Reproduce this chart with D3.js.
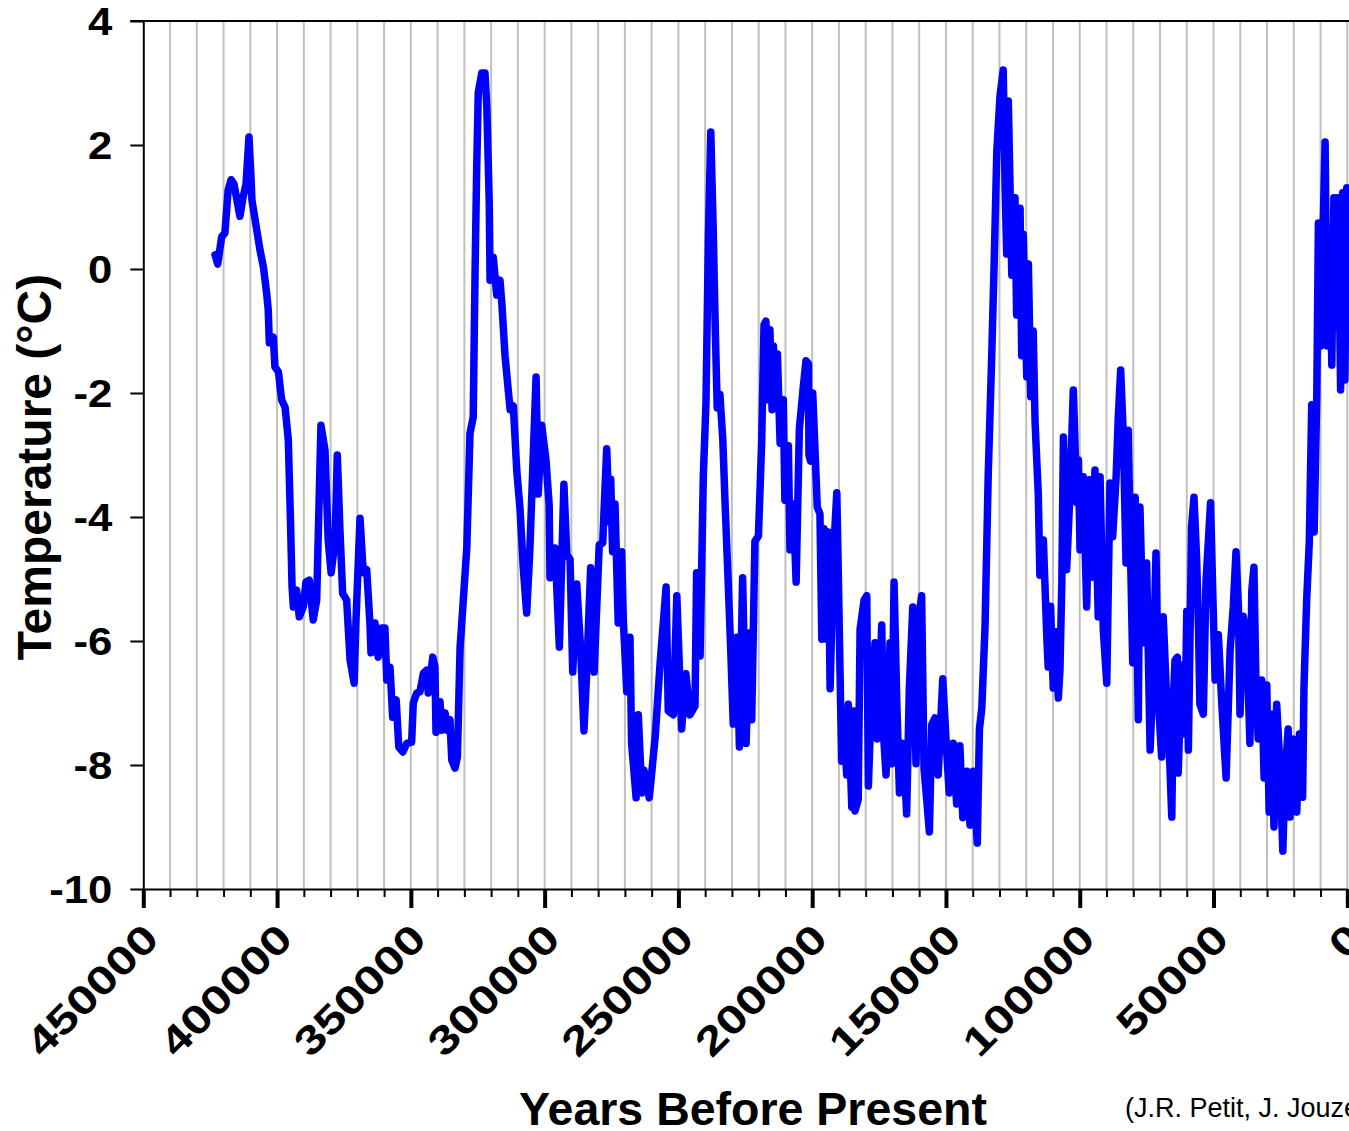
<!DOCTYPE html>
<html>
<head>
<meta charset="utf-8">
<script src="https://cdn.jsdelivr.net/npm/d3@7"></script>
<style>
  html, body { margin: 0; padding: 0; background: #fff; }
  svg { display: block; }
  text { font-family: "Liberation Sans", Arial, Helvetica, sans-serif; }
</style>
</head>
<body>
<svg id="chart" width="1349" height="1131"></svg>
<script>
// Vostok ice core: temperature anomaly vs. years before present
const years = [423200,422200,420700,419500,418300,417200,416100,415000,413900,412700,
411600,410500,409700,409400,408200,406400,405100,403900,403300,402900,
401400,400800,399500,398300,397000,395800,395000,394400,393900,392700,
391700,390200,389200,388000,386500,385200,383600,382100,380900,379800,
378300,377500,376500,375500,374000,372700,371200,370500,369000,367800,
366500,365300,364900,363400,362200,360900,359700,359000,357800,356800,
355500,354500,353000,351500,349700,349100,347800,346600,345300,344100,
343500,341800,341000,340600,339100,338500,337200,336400,335400,334700,
333500,332600,331600,331000,329100,327900,326700,326000,325400,324800,
323500,322300,321600,320700,320400,319200,317900,316700,316000,314800,
312900,311700,310400,309200,308000,306700,305500,303200,302400,301100,
299500,298300,298000,296100,294500,292800,291700,290500,289500,288000,
286500,285300,284300,282800,281500,279600,278300,276800,275800,275300,
274600,273700,272500,271200,270600,269300,268100,267500,265800,265000,
263700,262900,260900,258700,256900,254600,253800,251900,250600,248800,
247200,245700,243800,243200,241900,240700,239700,238800,237900,237000,
236300,235500,234500,233400,232600,231400,230500,229500,228200,227200,
226000,224700,223500,222600,221400,220100,218900,218000,217300,216400,
215800,215000,214500,213500,213000,212000,210800,210200,208900,208300,
207100,206000,204800,203300,202300,201400,201200,200600,199800,198900,
198100,197100,196400,195600,194600,194000,193300,192100,190800,190200,
189600,189000,188400,187100,186500,185200,184400,184000,182800,182100,
180600,179600,179000,177800,176500,175700,174000,173400,172400,170900,
170300,169400,168400,167400,166500,165300,164700,163700,162400,161200,
160300,159100,158200,157200,156200,155300,154100,152900,151200,150000,
148800,147300,146000,144800,143700,142200,141000,139800,138300,137500,
136600,135400,134200,132900,132000,131000,129800,128600,127900,127300,
126700,125400,124200,123600,122300,121700,121100,119800,119200,118300,
117400,116700,115500,114900,113600,112300,111800,110900,109900,108900,
108000,107400,106700,106100,104900,103600,102400,101100,100500,99900,
98700,97400,96400,95500,94300,93100,92400,91200,89900,88700,
87700,86400,85600,84700,83700,82700,81900,81000,80200,79300,
78100,77500,76200,75000,73700,72500,71500,70600,69400,68800,
67500,66300,65600,65000,64400,63500,63200,61900,60700,60000,
59400,58200,57300,56300,55600,55100,53800,52800,51100,50300,
49400,48200,46900,45300,43800,42600,41600,40700,40100,38900,
37600,36400,35700,34900,34100,33300,32000,31100,30100,29200,
28300,27400,26400,25200,24100,23300,22100,21400,20400,18900,
17900,16700,16200,15200,14200,13300,12400,11400,10800,9900,
9200,8300,7500,6500,5800,5000,4000,3400,2500,1700,
900,200];

const temps = [0.23,0.08,0.52,0.58,1.27,1.44,1.37,1.11,0.85,1.16,
1.37,2.13,1.44,1.11,0.79,0.31,0.03,-0.39,-0.66,-1.19,
-1.10,-1.58,-1.66,-2.11,-2.23,-2.76,-4.05,-5.13,-5.45,-5.18,
-5.61,-5.45,-5.05,-5.02,-5.66,-5.34,-2.52,-2.92,-4.37,-4.90,
-4.37,-3.00,-4.21,-5.23,-5.34,-6.31,-6.68,-5.66,-4.02,-4.90,
-4.85,-5.71,-6.19,-5.71,-6.26,-5.79,-5.79,-6.63,-6.42,-7.23,
-6.95,-7.71,-7.79,-7.65,-7.63,-7.00,-6.84,-6.82,-6.52,-6.47,
-6.84,-6.26,-6.42,-7.47,-6.98,-7.44,-7.16,-7.44,-7.27,-7.92,
-8.05,-7.87,-6.10,-5.73,-4.50,-2.65,-2.39,-0.05,1.61,2.85,
3.16,3.16,2.61,1.06,-0.18,0.19,-0.42,-0.18,-0.55,-1.40,
-2.27,-2.21,-3.26,-3.87,-4.81,-5.55,-4.50,-1.74,-3.63,-2.52,
-3.08,-3.81,-4.98,-4.50,-6.10,-3.47,-4.61,-4.68,-6.50,-5.08,
-6.16,-7.45,-6.53,-4.82,-6.50,-4.45,-4.42,-2.90,-4.08,-3.39,
-4.56,-3.79,-5.71,-4.56,-5.65,-6.82,-5.94,-7.65,-8.53,-7.19,
-8.45,-8.08,-8.53,-7.56,-6.39,-5.13,-7.13,-7.19,-5.27,-7.42,
-6.53,-7.19,-7.05,-4.90,-6.24,-3.35,-2.16,0.50,2.21,0.65,
-0.82,-2.24,-2.02,-2.76,-3.73,-5.05,-6.08,-7.34,-5.94,-7.71,
-4.98,-7.65,-5.87,-7.27,-4.39,-4.31,-2.82,-0.90,-0.84,-2.11,
-0.98,-2.27,-1.24,-2.05,-1.37,-2.81,-2.11,-3.73,-2.85,-4.53,
-3.79,-5.05,-2.58,-1.89,-1.48,-1.53,-3.00,-3.10,-2.00,-2.98,
-3.84,-3.95,-5.97,-4.19,-5.97,-4.24,-6.77,-4.65,-3.61,-5.00,
-6.48,-7.94,-7.18,-8.16,-7.02,-8.68,-7.13,-8.74,-8.56,-5.81,
-5.34,-5.27,-8.34,-6.84,-6.03,-7.58,-5.74,-7.47,-8.16,-6.03,
-7.98,-5.05,-6.95,-8.45,-7.65,-8.23,-8.79,-6.77,-5.45,-7.98,
-5.68,-5.27,-8.05,-8.56,-9.08,-7.35,-7.24,-8.16,-6.61,-7.58,
-8.45,-7.65,-8.63,-7.69,-8.85,-8.10,-8.97,-8.10,-9.26,-7.42,
-7.08,-5.77,-3.31,-1.40,0.08,1.89,2.79,3.21,1.31,0.24,
2.71,-0.10,1.15,-0.74,0.98,-1.40,0.56,-1.74,0.08,-2.06,
-1.00,-2.47,-3.63,-4.94,-4.37,-5.94,-6.42,-5.44,-6.76,-5.85,
-6.92,-6.47,-5.06,-2.71,-4.85,-3.56,-1.95,-3.77,-3.08,-4.53,
-3.35,-5.45,-3.40,-4.97,-3.24,-5.61,-3.35,-5.82,-6.68,-3.45,
-4.32,-3.35,-2.39,-1.63,-2.71,-4.74,-2.60,-4.65,-6.35,-3.68,
-7.27,-3.84,-6.03,-4.74,-7.76,-6.47,-4.58,-6.95,-7.87,-5.61,
-6.95,-8.03,-8.84,-6.95,-6.31,-6.26,-8.13,-6.39,-7.50,-5.52,
-7.76,-4.16,-3.68,-4.69,-5.82,-7.02,-7.18,-5.03,-3.77,-5.19,
-6.63,-5.90,-7.02,-8.21,-6.15,-5.44,-4.56,-5.44,-7.18,-5.60,
-5.90,-7.65,-5.19,-4.81,-6.77,-7.58,-6.63,-8.21,-6.71,-8.76,
-7.18,-9.00,-7.02,-7.97,-9.39,-8.21,-7.42,-8.84,-7.58,-8.76,
-7.50,-8.52,-6.77,-5.35,-4.40,-2.19,-4.24,-2.03,0.74,-1.24,
0.35,2.05,-1.24,0.50,-1.55,1.15,-0.92,1.15,-1.95,1.23,
-1.79,1.31];

const yTicks = [-10, -8, -6, -4, -2, 0, 2, 4];
const xMajorTicks = [450000, 400000, 350000, 300000, 250000, 200000, 150000, 100000, 50000, 0];
const xMinorStep = 10000;

const xTitle = "Years Before Present";
const yTitle = "Temperature (\u00B0C)";
const sourceNote = "(J.R. Petit, J. Jouzel, et al., Nature, 1999)";

(function draw() {
  const svg = d3.select("#chart");
  const plotLeft = 143.3, plotRight = 1347.3, plotTop = 21, plotBottom = 889;

  const x = d3.scaleLinear().domain([450000, 0]).range([plotLeft, plotRight]);
  const y = d3.scaleLinear().domain([-10, 4]).range([plotBottom, plotTop]);

  svg.append("rect").attr("width", 1349).attr("height", 1131).attr("fill", "#fff");

  // vertical grid every 10 000 years
  const gridVals = d3.range(0, 450000, xMinorStep);
  svg.append("g").selectAll("line").data(gridVals).join("line")
    .attr("x1", d => x(d)).attr("x2", d => x(d))
    .attr("y1", plotTop).attr("y2", plotBottom)
    .attr("stroke", "#c0c0c0").attr("stroke-width", 2);

  // top frame line
  svg.append("line").attr("x1", plotLeft - 13).attr("x2", 1349)
    .attr("y1", plotTop).attr("y2", plotTop)
    .attr("stroke", "#000").attr("stroke-width", 2);

  // temperature record
  const pts = d3.range(Math.min(years.length, temps.length)).map(i => [years[i], temps[i]]);
  svg.append("path").datum(pts)
    .attr("fill", "none").attr("stroke", "#0000ff")
    .attr("stroke-width", 7.5).attr("stroke-linejoin", "round").attr("stroke-linecap", "round")
    .attr("d", d3.line().x(d => x(d[0])).y(d => y(d[1])));

  // y axis
  const yAxis = svg.append("g").attr("transform", `translate(${plotLeft},0)`)
    .call(d3.axisLeft(y).tickValues(yTicks).tickSize(13).tickSizeOuter(0).tickFormat(d => String(d)));
  yAxis.select(".domain").attr("stroke-width", 2);
  yAxis.selectAll(".tick line").attr("stroke-width", 2);
  yAxis.selectAll(".tick text")
    .attr("x", null)
    .attr("transform", "translate(-31,0) scale(1.15,1)")
    .attr("dy", "0.36em")
    .attr("font-size", 38).attr("font-weight", "bold").attr("fill", "#000");

  // x axis: minor ticks
  const xMinor = svg.append("g").attr("transform", `translate(0,${plotBottom})`)
    .call(d3.axisBottom(x).tickValues(d3.range(0, 450001, xMinorStep)).tickSize(8).tickSizeOuter(0).tickFormat(""));
  xMinor.select(".domain").attr("stroke-width", 2);
  xMinor.selectAll(".tick line").attr("stroke-width", 2);

  // x axis: major ticks and rotated labels
  const xAxis = svg.append("g").attr("transform", `translate(0,${plotBottom})`)
    .call(d3.axisBottom(x).tickValues(xMajorTicks).tickSize(19).tickSizeOuter(0).tickFormat(d => String(d)));
  xAxis.select(".domain").remove();
  xAxis.selectAll(".tick line").attr("stroke-width", 4);
  xAxis.selectAll(".tick text")
    .attr("y", null).attr("dy", null)
    .attr("text-anchor", "end")
    .attr("transform", "translate(17,52) rotate(-45) scale(1.25,1)")
    .attr("font-size", 40).attr("font-weight", "bold").attr("fill", "#000");

  // axis titles
  svg.append("text").attr("x", 753).attr("y", 1125)
    .attr("text-anchor", "middle").attr("font-size", 46.5).attr("font-weight", "bold")
    .text(xTitle);
  svg.append("text").attr("transform", "translate(51,467) rotate(-90)")
    .attr("text-anchor", "middle").attr("font-size", 48).attr("font-weight", "bold")
    .text(yTitle);

  // source note
  svg.append("text").attr("x", 1125).attr("y", 1117)
    .attr("font-size", 27).text(sourceNote);
})();
</script>
</body>
</html>
